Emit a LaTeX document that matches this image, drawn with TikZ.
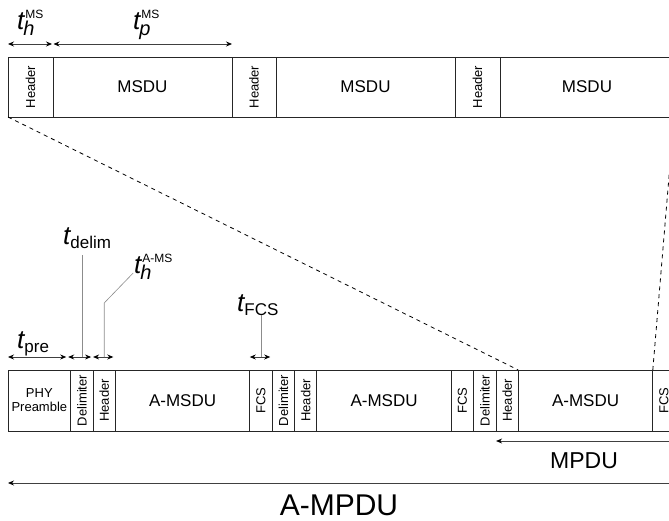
\documentclass[tikz,border=0pt]{standalone}
\usepackage{fontspec}
\setmainfont{Liberation Sans}
\usetikzlibrary{arrows.meta,calc}
\newcommand{\fs}[1]{\fontsize{#1}{#1}\selectfont}
\newcommand{\tsym}{{\fs{26}\itshape t}}
\newcommand{\tsubsup}[2]{\tsym\rlap{\kern1pt\raisebox{11pt}{\fs{12}#2}}\kern-1pt\raisebox{-6pt}{\fs{20}\itshape #1}}
\newcommand{\tsub}[1]{\tsym\raisebox{-4pt}{\fs{17}#1}}
\begin{document}
\begin{tikzpicture}[x=1pt,y=-1pt,
  cell/.style={draw=black!85,line width=0.8pt,inner sep=0pt,outer sep=0pt,anchor=west,align=center,font=\fs{13}},
  topcell/.style={cell,minimum height=60pt},
  botcell/.style={cell,minimum height=61pt},
  big/.style={font=\fs{17}},
  dim/.style={black!75,line width=0.8pt,{Stealth[length=6pt,width=5pt,black]}-{Stealth[length=6pt,width=5pt,black]}},
  lead/.style={black!45,line width=0.6pt},
  projline/.style={black,line width=0.8pt,dash pattern=on 4pt off 4pt},
  lab/.style={inner sep=0pt,anchor=base west}]
\useasboundingbox (0,0) rectangle (669,521);
\clip (0,0) rectangle (669,521);
% top row
\coordinate (tstart) at (8,87);
\node[topcell,minimum width=45pt] (th1) at (tstart) {\rotatebox{90}{Header}};
\node[topcell,minimum width=179pt,big] (tm1) at (th1.east) {MSDU};
\node[topcell,minimum width=44pt] (th2) at (tm1.east) {\rotatebox{90}{Header}};
\node[topcell,minimum width=179pt,big] (tm2) at (th2.east) {MSDU};
\node[topcell,minimum width=45pt] (th3) at (tm2.east) {\rotatebox{90}{Header}};
\node[topcell,minimum width=174pt,big] (tm3) at (th3.east) {MSDU};
% bottom row
\coordinate (bstart) at (8,400.5);
\node[botcell,minimum width=62.7pt] (pre) at (bstart) {PHY\\[1pt]Preamble};
\node[botcell,minimum width=22.4pt] (d1) at (pre.east) {\rotatebox{90}{Delimiter}};
\node[botcell,minimum width=22.2pt] (h1) at (d1.east) {\rotatebox{90}{Header}};
\node[botcell,minimum width=134.5pt,big] (a1) at (h1.east) {A-MSDU};
\node[botcell,minimum width=22.4pt] (f1) at (a1.east) {\rotatebox{90}{FCS}};
\node[botcell,minimum width=22.4pt] (d2) at (f1.east) {\rotatebox{90}{Delimiter}};
\node[botcell,minimum width=22.2pt] (h2) at (d2.east) {\rotatebox{90}{Header}};
\node[botcell,minimum width=134.5pt,big] (a2) at (h2.east) {A-MSDU};
\node[botcell,minimum width=22.4pt] (f2) at (a2.east) {\rotatebox{90}{FCS}};
\node[botcell,minimum width=22.4pt] (d3) at (f2.east) {\rotatebox{90}{Delimiter}};
\node[botcell,minimum width=22.2pt] (h3) at (d3.east) {\rotatebox{90}{Header}};
\node[botcell,minimum width=134.5pt,big] (a3) at (h3.east) {A-MSDU};
\node[botcell,minimum width=22.4pt] (f3) at (a3.east) {\rotatebox{90}{FCS}};
% dashed projection lines
\draw[projline] (th1.south west) -- (h3.north east);
\draw[projline] (f3.north west) -- (tm3.south east);
% top dimension arrows
\draw[dim] ([yshift=13pt]th1.north west) -- ([yshift=13pt,xshift=-1pt]th1.north east);
\draw[dim] ([yshift=13pt,xshift=0.5pt]tm1.north west) -- ([yshift=13pt]tm1.north east);
\node[lab] (lth) at (17,30) {\tsubsup{h}{MS}};
\node[lab] (ltp) at (133,30) {\tsubsup{p}{MS}};
% bottom small dimension arrows
\draw[dim] ([yshift=13pt]pre.north west) -- ([yshift=13pt,xshift=-4.5pt]pre.north east);
\draw[dim] ([yshift=13pt,xshift=-2.5pt]d1.north west) -- ([yshift=13pt,xshift=-2pt]d1.north east);
\draw[dim] ([yshift=13pt,xshift=0pt]h1.north west) -- ([yshift=13pt,xshift=-2pt]h1.north east);
\draw[dim] ([yshift=13pt,xshift=0pt]f1.north west) -- ([yshift=13pt,xshift=-2pt]f1.north east);
\node[lab] (lpre) at (17,348) {\tsub{pre}};
\node[lab] (ldel) at (63,245) {\tsub{delim}};
\node[lab] (lha) at (134,273) {\tsubsup{h}{A-MS}};
\node[lab] (lfcs) at (237,312) {\tsub{FCS}};
% leader lines
\draw[lead] ([yshift=13pt]d1.north) -- ++(0,-102);
\draw[lead] ([yshift=13pt]h1.north) -- ++(0,-54) -- ++(29,-30);
\draw[lead] ([yshift=13pt]f1.north) -- ++(0,-42);
% MPDU / A-MPDU
\draw[dim] ([yshift=-10pt]h3.south west) -- ([yshift=-10pt,xshift=6pt]f3.south east);
\node[inner sep=0pt,anchor=base,font=\fs{23}] (mpdu) at (584,468) {MPDU};
\draw[dim] ([yshift=-52pt]pre.south west) -- ([yshift=-52pt,xshift=6pt]f3.south east);
\node[inner sep=0pt,anchor=base,font=\fs{30}] (ampdu) at (339,515) {A-MPDU};
\end{tikzpicture}
\end{document}
